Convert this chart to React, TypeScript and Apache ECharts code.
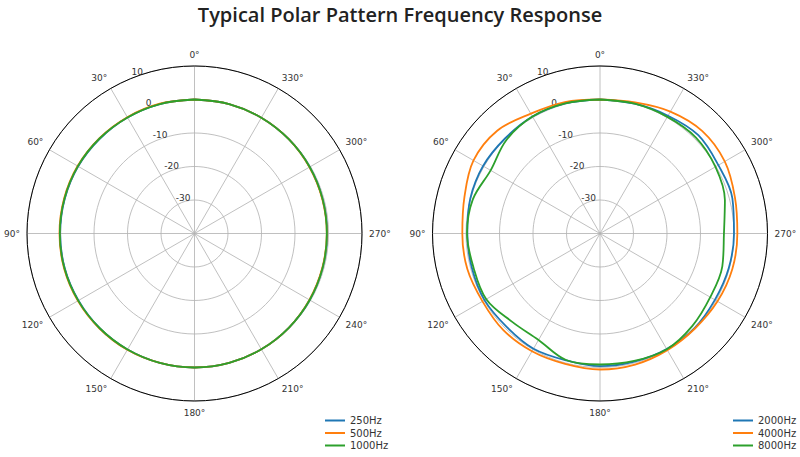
import { useEffect, useRef } from "react";
import * as echarts from "echarts";

// angles in degrees, counter-clockwise from the top
const angles = [
  0, 15, 30, 45, 60, 75, 90, 105, 120, 135, 150, 165, 180, 195, 210, 225, 240,
  255, 270, 285, 300, 315, 330, 345,
];

// low frequencies: almost omnidirectional
const hz250 = [
  0, 0, 0, 0, 0.1, 0.1, 0.1, 0.1, 0, 0, 0, 0, 0, 0, -0.1, -0.2, -0.3, -0.4,
  -0.4, -0.4, -0.3, -0.2, -0.1, 0,
];
const hz500 = [
  0, 0.1, 0.1, 0.2, 0.3, 0.3, 0.3, 0.3, 0.2, 0.1, 0.1, 0, 0, 0, -0.1, -0.2,
  -0.4, -0.5, -0.5, -0.5, -0.4, -0.2, -0.1, 0,
];
const hz1000 = [
  0, 0, 0, 0.1, 0.2, 0.2, 0.2, 0.2, 0.1, 0, 0, 0, 0, 0, -0.1, -0.2, -0.3,
  -0.4, -0.5, -0.4, -0.3, -0.2, -0.1, 0,
];

// high frequencies
const hz2000 = [
  0, 0.2, 0.3, 0.1, 0.3, 0.1, -0.4, -0.4, -0.2, -0.6, -0.3, -0.8, -0.4, -0.4,
  -0.2, -0.1, -0.4, -0.2, 0.0, 0.9, 0.8, 1.5, 0.6, 0.1,
];
const hz4000 = [
  0, 0.6, 1.3, 3.4, 3.6, 1.9, 1.1, 1.0, 0.5, 0.8, 0.6, 0.3, 0.6, 0.5, 0.2,
  0.1, 0.5, 0.9, 1.0, 1.7, 3.0, 3.2, 2.0, 0.5,
];
const hz8000 = [
  0, 0.2, 0.3, -0.5, -2.3, -0.7, -0.3, -0.9, -0.8, -2.8, -3.3, -0.9, -0.9,
  -0.6, -0.1, -1.0, -2.0, -2.2, -3.0, -1.4, -0.2, 0.5, 0.2, 0.1,
];

const lowNames = ["250Hz", "500Hz", "1000Hz"];
const highNames = ["2000Hz", "4000Hz", "8000Hz"];
const colors = ["#1f77b4", "#ff7f0e", "#2ca02c"];

const rMin = -40;
const rMax = 10;
const FONT = "DejaVu Sans";
const GRID = "#b0b0b0";

// close the loop by repeating the first value at 360°
const toPolar = (vals: number[]) =>
  angles.map((a, i) => [vals[i], a]).concat([[vals[0], 360]]);

const centers = [
  [194.5, 233.5],
  [600, 233.5],
];
const R = 167.5;

function polarSet(idx: number) {
  const c = centers[idx];
  return {
    polars: [
      { center: c, radius: R },
      { center: c, radius: R },
    ],
    angleAxes: [
      {
        polarIndex: idx * 2,
        type: "value",
        min: 0,
        max: 360,
        interval: 30,
        startAngle: 90,
        clockwise: false,
        axisLine: { lineStyle: { color: "#000", width: 1 } },
        axisTick: { show: false },
        axisLabel: {
          formatter: "{value}°",
          fontSize: 9,
          fontFamily: FONT,
          color: "#333",
          margin: 7,
        },
        splitLine: { lineStyle: { color: GRID, width: 0.8 } },
      },
      {
        // only used to place the radius labels just left of the top
        polarIndex: idx * 2 + 1,
        type: "value",
        min: 0,
        max: 360,
        startAngle: 110,
        clockwise: false,
        show: false,
      },
    ],
    radiusAxes: [
      {
        polarIndex: idx * 2,
        type: "value",
        min: rMin,
        max: rMax,
        interval: 10,
        axisLine: { show: false },
        axisTick: { show: false },
        axisLabel: { show: false },
        splitLine: { show: true, lineStyle: { color: GRID, width: 0.8 } },
      },
      {
        polarIndex: idx * 2 + 1,
        type: "value",
        min: rMin,
        max: rMax,
        interval: 10,
        axisLine: { show: false },
        axisTick: { show: false },
        splitLine: { show: false },
        axisLabel: {
          fontSize: 9,
          fontFamily: FONT,
          color: "#333",
          margin: 0,
          align: "center",
          verticalAlign: "bottom",
          formatter: (v: number) => (v === rMin ? "" : String(v)),
        },
      },
    ],
  };
}

export default function App() {
  const ref = useRef<HTMLDivElement>(null);

  useEffect(() => {
    if (!ref.current) return;
    const chart = echarts.init(ref.current, undefined, { renderer: "svg" });

    const a = polarSet(0);
    const b = polarSet(1);

    const makeSeries = (names: string[], sets: number[][], polarIndex: number) =>
      sets.map((vals, i) => ({
        name: names[i],
        type: "line",
        coordinateSystem: "polar",
        polarIndex,
        data: toPolar(vals),
        smooth: 0.35,
        showSymbol: false,
        lineStyle: { width: 1.8, color: colors[i] },
        itemStyle: { color: colors[i] },
      }));

    const legendBase = {
      orient: "vertical",
      top: 415,
      height: 40,
      padding: 0,
      icon: "rect",
      itemWidth: 20,
      itemHeight: 2,
      itemGap: 1.5,
      textStyle: { fontSize: 10, fontFamily: FONT, color: "#333", lineHeight: 11 },
    };

    chart.setOption({
      animation: false,
      backgroundColor: "#fff",
      title: {
        text: "Typical Polar Pattern Frequency Response",
        left: "center",
        top: -1,
        textStyle: {
          fontSize: 20,
          fontWeight: 600,
          fontFamily: "Open Sans",
          color: "#222",
        },
      },
      legend: [
        { ...legendBase, left: 325, data: lowNames },
        { ...legendBase, left: 733, data: highNames },
      ],
      polar: [...a.polars, ...b.polars],
      angleAxis: [...a.angleAxes, ...b.angleAxes],
      radiusAxis: [...a.radiusAxes, ...b.radiusAxes],
      series: [
        ...makeSeries(lowNames, [hz250, hz500, hz1000], 0),
        ...makeSeries(highNames, [hz2000, hz4000, hz8000], 2),
      ],
    });

    return () => chart.dispose();
  }, []);

  return (
    <div
      ref={ref}
      style={{ position: "absolute", left: 0, top: 0, width: 800, height: 457 }}
    />
  );
}
